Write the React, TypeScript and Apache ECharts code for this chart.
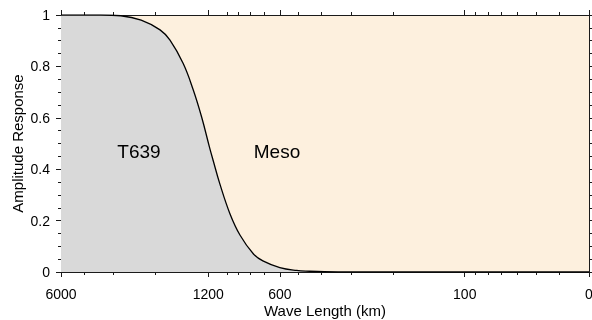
import React, { useEffect, useRef } from 'react';
import * as echarts from 'echarts';

// Wavelength (km) and amplitude response
const waveLengthKm = [5000, 4000, 3400, 2800, 2300, 1915, 1739, 1530, 1390, 1280, 1188, 1143, 1072, 972, 883, 776, 707, 600, 510, 450, 390, 300, 30];
const amplitude = [1, 1, 1, 0.997, 0.98, 0.942, 0.902, 0.811, 0.71, 0.603, 0.488, 0.432, 0.342, 0.226, 0.144, 0.071, 0.043, 0.017, 0.006, 0.003, 0.001, 0, 0];

const majorTickKm = [5000, 1200, 600, 100, 30];
const majorTickLabels = ['6000', '1200', '600', '100', '0'];
const minorTickKm = [4000, 3000, 2000, 1000, 900, 800, 700, 500, 400, 300, 200, 90, 80, 70, 60, 50, 40];

const regionLabels = ['T639', 'Meso'];

const FONT = '"Liberation Sans", Arial, sans-serif';
const lg = (v: number) => Math.log10(v);

export default function App() {
  const ref = useRef<HTMLDivElement>(null);
  useEffect(() => {
    if (!ref.current) return;
    const chart = echarts.init(ref.current, undefined, { renderer: 'svg' });
    const xMin = lg(30);
    const xMax = lg(5000);
    const majorVals = majorTickKm.map(lg);
    const minorVals = minorTickKm.map(lg);
    const axisColor = '#1a1a1a';
    const xAxisCfg = (position: 'top' | 'bottom', major: boolean, showLabel: boolean, extra: any = {}) => ({
      type: 'value',
      position,
      min: xMin,
      max: xMax,
      inverse: true,
      axisLine: { show: true, onZero: false, lineStyle: { color: axisColor, width: 1 } },
      axisTick: {
        show: true,
        customValues: major ? majorVals : minorVals,
        length: major ? 5 : 3,
        lineStyle: { color: axisColor, width: 1 },
      },
      axisLabel: {
        show: showLabel,
        customValues: majorVals,
        margin: 15,
        color: '#000',
        fontSize: 14,
        fontFamily: FONT,
        formatter: (v: number) => {
          const i = majorVals.findIndex((m) => Math.abs(m - v) < 1e-6);
          return i >= 0 ? majorTickLabels[i] : '';
        },
      },
      splitLine: { show: false },
      ...extra,
    });
    const yAxisCfg = (position: 'left' | 'right', showLabel: boolean, extra: any = {}) => ({
      type: 'value',
      position,
      min: 0,
      max: 1,
      interval: 0.2,
      axisLine: { show: true, onZero: false, lineStyle: { color: axisColor, width: 1 } },
      axisTick: { show: true, length: 5, lineStyle: { color: axisColor, width: 1 } },
      minorTick: { show: true, splitNumber: 4, length: 3, lineStyle: { color: axisColor, width: 1 } },
      axisLabel: { show: showLabel, margin: 11, color: '#000', fontSize: 14, fontFamily: FONT },
      splitLine: { show: false },
      minorSplitLine: { show: false },
      ...extra,
    });
    chart.setOption({
      animation: false,
      grid: {
        left: 61,
        right: 3,
        top: 15,
        bottom: 48,
        containLabel: false,
        outerBoundsMode: 'none',
        show: true,
        backgroundColor: '#fdf0de',
        borderWidth: 0,
      },
      xAxis: [
        xAxisCfg('bottom', true, true, {
          name: 'Wave Length (km)',
          nameLocation: 'middle',
          nameGap: 31,
          nameMoveOverlap: false,
          nameTextStyle: { color: '#000', fontSize: 15, fontFamily: FONT },
        }),
        xAxisCfg('bottom', false, false),
        xAxisCfg('top', true, false),
        xAxisCfg('top', false, false),
      ],
      yAxis: [
        yAxisCfg('left', true, {
          name: 'Amplitude Response',
          nameLocation: 'middle',
          nameGap: 36,
          nameMoveOverlap: false,
          nameTextStyle: { color: '#000', fontSize: 15, fontFamily: FONT },
        }),
        yAxisCfg('right', false),
      ],
      series: [
        {
          type: 'line',
          xAxisIndex: 0,
          yAxisIndex: 0,
          data: waveLengthKm.map((w, i) => [lg(w), amplitude[i]]),
          showSymbol: false,
          smooth: 0.4,
          lineStyle: { color: '#000', width: 1.3 },
          areaStyle: { color: '#d9d9d9', opacity: 1, origin: 'start' },
          silent: true,
        },
      ],
      graphic: [
        {
          type: 'text',
          z: 100,
          x: 139,
          y: 151,
          style: { text: regionLabels[0], fill: '#000', font: `19px ${FONT}`, textAlign: 'center', textVerticalAlign: 'middle' },
        },
        {
          type: 'text',
          z: 100,
          x: 277,
          y: 151,
          style: { text: regionLabels[1], fill: '#000', font: `19px ${FONT}`, textAlign: 'center', textVerticalAlign: 'middle' },
        },
      ],
    });
    return () => chart.dispose();
  }, []);
  return <div ref={ref} style={{ position: 'fixed', left: 0, top: 0, width: 592, height: 320 }} />;
}
